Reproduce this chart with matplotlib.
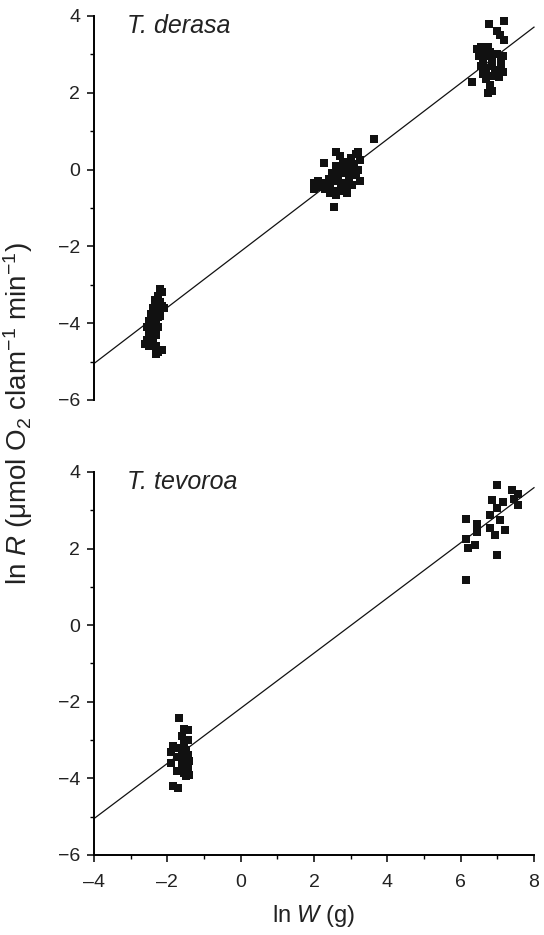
import matplotlib
matplotlib.use("Agg")
import matplotlib.pyplot as plt
from matplotlib.ticker import MultipleLocator

plt.rcParams['font.family'] = ['Liberation Sans', 'DejaVu Sans']
plt.rcParams['mathtext.fontset'] = 'custom'
plt.rcParams['mathtext.rm'] = 'Liberation Sans'
plt.rcParams['mathtext.it'] = 'Liberation Sans:italic'

# ---- data: T. derasa ----
derasa_x = [-2.2, -2.15, -2.25, -2.2, -2.35, -2.15, -2.4, -2.3, -2.45, -2.2,
            -2.35, -2.5, -2.3, -2.4, -2.25, -2.45, -2.35, -2.5, -2.3, -2.4,
            -2.55, -2.45, -2.6, -2.3, -2.5, -2.25, -2.3, -2.35, -2.25, -2.4,
            -2.1, -2.15, -2.55,
            2.0, 2.0, 2.1, 2.15, 2.25, 2.3, 2.4, 2.45, 2.5, 2.55,
            2.55, 2.6, 2.65, 2.6, 2.7, 2.7, 2.75, 2.8, 2.85, 2.85,
            2.9, 2.95, 3.0, 3.0, 3.05, 3.1, 3.15, 3.15, 3.2, 3.25,
            3.25, 2.6, 2.75, 2.9, 2.45, 3.2, 3.64, 2.27, 2.55,
            6.45, 6.55, 6.65, 6.75, 6.5, 6.6, 6.7, 6.85, 7.0, 7.1,
            6.55, 6.7, 6.85, 6.95, 7.1, 7.15, 6.6, 6.75, 6.9, 7.05,
            6.7, 6.8, 6.75, 6.85, 6.3, 6.8, 7.15,
            6.77, 7.18, 6.99, 7.18, 7.08]
derasa_y = [-3.1, -3.2, -3.3, -3.45, -3.5, -3.55, -3.6, -3.7, -3.75, -3.8,
            -3.9, -3.95, -4.0, -4.05, -4.1, -4.15, -4.2, -4.25, -4.3, -4.35,
            -4.45, -4.5, -4.55, -4.6, -4.6, -4.75, -4.8, -3.4, -3.85, -4.45,
            -3.6, -4.7, -4.1,
            -0.35, -0.5, -0.3, -0.45, -0.35, -0.5, -0.25, -0.4, -0.1, -0.3,
            -0.55, 0.1, -0.15, -0.65, 0.35, 0.0, -0.35, 0.2, -0.1, -0.45,
            0.1, -0.25, 0.3, -0.05, -0.4, 0.15, 0.4, -0.15, 0.0, -0.3,
            0.25, 0.45, -0.55, -0.6, -0.6, 0.45, 0.8, 0.17, -0.97,
            3.15, 3.2, 3.1, 3.2, 2.95, 2.85, 2.95, 2.9, 3.0, 2.85,
            2.7, 2.65, 2.7, 2.6, 2.7, 2.55, 2.5, 2.45, 2.45, 2.4,
            2.35, 2.2, 2.0, 2.05, 2.28, 3.05, 2.95,
            3.79, 3.87, 3.61, 3.37, 3.5]
derasa_slope, derasa_intercept = 0.73, -2.13

# ---- data: T. tevoroa ----
tevoroa_x = [-1.68, -1.55, -1.45, -1.6, -1.45, -1.55, -1.85, -1.7, -1.5, -1.9,
             -1.6, -1.45, -1.75, -1.55, -1.4, -1.9, -1.6, -1.45, -1.55, -1.4,
             -1.85, -1.7, -1.75, -1.5,
             6.99, 7.4, 7.56, 7.56, 6.85, 7.15, 6.8, 7.07, 6.8, 7.2,
             6.94, 6.14, 6.44, 6.44, 6.14, 6.39, 6.2, 6.99, 6.14, 7.0, 7.45]
tevoroa_y = [-2.42, -2.7, -2.75, -2.9, -3.0, -3.1, -3.15, -3.2, -3.25, -3.3,
             -3.35, -3.4, -3.45, -3.5, -3.55, -3.6, -3.65, -3.75, -3.85, -3.9,
             -4.2, -4.25, -3.8, -3.95,
             3.66, 3.52, 3.42, 3.13, 3.26, 3.21, 2.87, 2.74, 2.53, 2.48,
             2.35, 2.77, 2.64, 2.43, 2.25, 2.09, 2.01, 1.83, 1.17, 3.05, 3.3]
tevoroa_slope, tevoroa_intercept = 0.72, -2.17

line_x = [-4, 8]

fig = plt.figure(figsize=(5.44, 9.35), dpi=100)
ax1 = fig.add_axes([0.1728, 0.5722, 0.8088, 0.4107])
ax2 = fig.add_axes([0.1728, 0.0856, 0.8088, 0.4096])

def style(ax, show_x):
    ax.set_xlim(-4, 8)
    ax.set_ylim(-6, 4)
    for s in ['top', 'right']:
        ax.spines[s].set_visible(False)
    ax.spines['left'].set_linewidth(1.4)
    ax.spines['bottom'].set_linewidth(1.4)
    ax.yaxis.set_major_locator(MultipleLocator(2))
    ax.yaxis.set_minor_locator(MultipleLocator(1))
    ax.xaxis.set_major_locator(MultipleLocator(2))
    ax.xaxis.set_minor_locator(MultipleLocator(1))
    ax.tick_params(which='major', direction='out', length=5, width=1.1, labelsize=14,
                   labelcolor='#222222')
    ax.tick_params(axis='y', which='major', pad=5)
    ax.tick_params(axis='x', which='major', pad=9)
    ax.tick_params(which='minor', direction='out', length=3, width=1.0)
    if not show_x:
        ax.spines['bottom'].set_visible(False)
        ax.tick_params(axis='x', which='both', bottom=False, labelbottom=False)
    ax.yaxis.set_major_formatter(matplotlib.ticker.FuncFormatter(
        lambda v, p: ('\u2212%d' % -v) if v < 0 else '%d' % v))
    ax.xaxis.set_major_formatter(matplotlib.ticker.FuncFormatter(
        lambda v, p: ('\u2013%d' % -v) if v < 0 else '%d' % v))

for ax, xs, ys, m, b, name, showx in [
        (ax1, derasa_x, derasa_y, derasa_slope, derasa_intercept, 'T. derasa', False),
        (ax2, tevoroa_x, tevoroa_y, tevoroa_slope, tevoroa_intercept, 'T. tevoroa', True)]:
    style(ax, showx)
    ax.scatter(xs, ys, marker='s', s=30, color='#111111', linewidths=0, zorder=3, clip_on=False)
    ax.plot(line_x, [m * v + b for v in line_x], color='#111111', lw=0.9, zorder=2, clip_on=False)
    ax.text(0.075, 1.005, name, transform=ax.transAxes, fontsize=18, style='italic',
            ha='left', va='top', color='#222222')

ax2.set_xlabel(r'ln $\mathit{W}$ (g)', fontsize=17, labelpad=8, color='#222222')
fig.text(0.034, 0.558, r'ln $\mathit{R}$ (μmol O$_2$ clam$^{-1}$ min$^{-1}$)', rotation=90,
         fontsize=20, ha='center', va='center', color='#222222')

fig.savefig('out.png', dpi=100)
